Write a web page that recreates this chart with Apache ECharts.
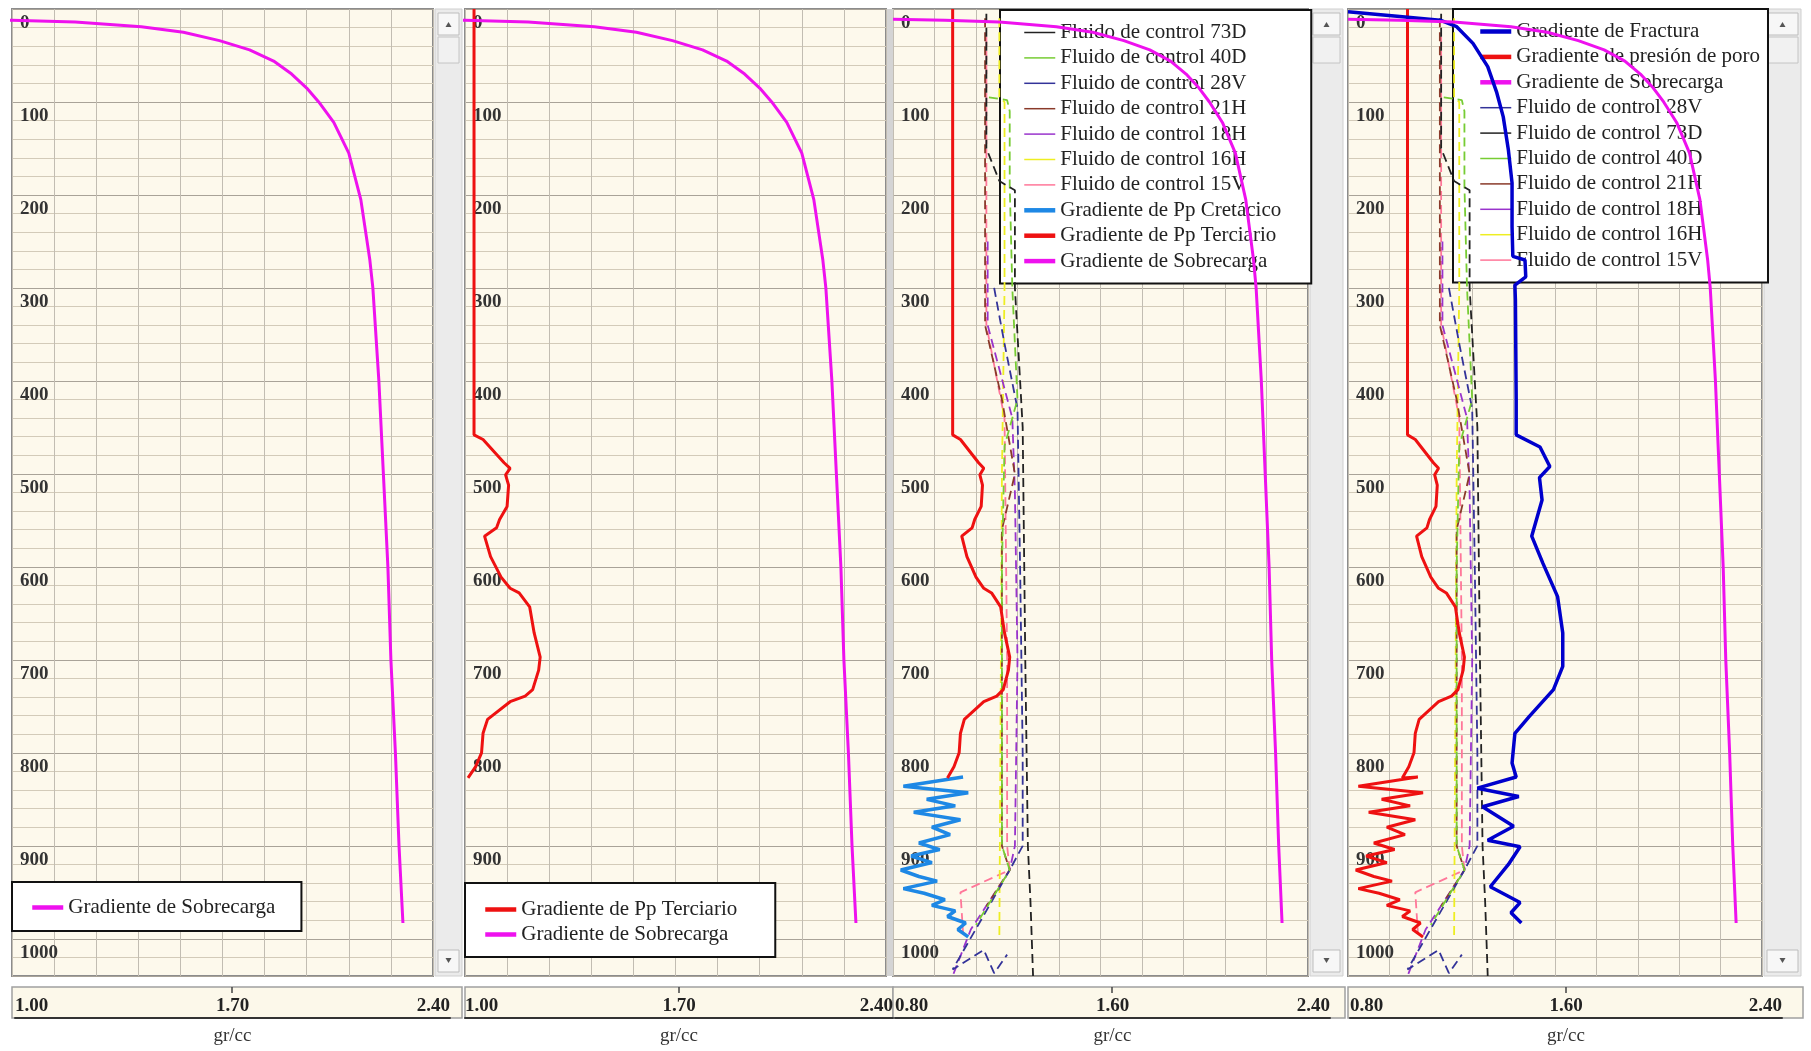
<!DOCTYPE html>
<html><head><meta charset="utf-8">
<script src="https://cdn.jsdelivr.net/npm/echarts@6/dist/echarts.min.js"></script>
<style>html,body{margin:0;padding:0;background:#fff;}#c{width:1811px;height:1051px;}</style>
</head><body><div id="c"></div>
<script>
// ---------- DATA (x = gradient gr/cc, y = depth) ----------
const depthMax = 1040;
const depthStep = 100;
const gradRangeA = [1.00, 2.40];
const gradRangeB = [0.80, 2.40];
const unitName = 'gr/cc';

const sobrecarga = [[0.80,11],[1.00,12],[1.21,14],[1.43,19],[1.57,25],[1.69,34],[1.79,44],[1.87,56],[1.93,70],[1.98,85],[2.02,100],[2.07,122],[2.12,155],[2.16,205],[2.19,270],[2.20,300],[2.22,400],[2.235,500],[2.25,600],[2.26,700],[2.275,800],[2.287,900],[2.30,983]];

const terciario = [[1.03,0],[1.03,458],[1.06,463],[1.13,488],[1.15,494],[1.135,501],[1.145,512],[1.14,535],[1.115,549],[1.105,558],[1.065,567],[1.085,589],[1.12,611],[1.15,623],[1.18,628],[1.215,643],[1.23,671],[1.25,697],[1.245,711],[1.225,732],[1.20,739],[1.15,745],[1.075,764],[1.06,779],[1.055,800],[1.035,815],[1.01,827]];

const cretacico = [[1.07,826],[0.84,836],[1.09,843],[0.93,850],[1.04,857],[0.88,864],[1.06,872],[0.95,880],[1.02,888],[0.90,897],[0.98,904],[0.87,911],[0.95,918],[0.83,926],[0.90,933],[0.97,938],[0.84,946],[0.92,951],[1.00,958],[0.95,964],[1.04,970],[1.01,976],[1.08,983],[1.05,990],[1.09,998]];

const fractura = [[0.80,3],[1.00,8],[1.156,12],[1.22,19],[1.283,37],[1.34,62],[1.375,90],[1.40,116],[1.42,152],[1.434,187],[1.434,234],[1.437,266],[1.484,270],[1.487,288],[1.445,297],[1.447,313],[1.45,420],[1.45,458],[1.542,471],[1.58,492],[1.54,504],[1.55,528],[1.51,567],[1.553,596],[1.61,632],[1.63,671],[1.63,707],[1.594,732],[1.50,761],[1.445,779],[1.434,811],[1.45,826],[1.30,838],[1.46,847],[1.32,858],[1.44,879],[1.34,894],[1.465,901],[1.42,920],[1.35,944],[1.465,961],[1.43,972],[1.47,983]];

const fluido73D = [[1.16,5],[1.16,150],[1.21,185],[1.27,195],[1.27,300],[1.29,400],[1.30,450],[1.31,700],[1.32,900],[1.33,960],[1.34,1040]];
const fluido40D = [[1.17,95],[1.24,98],[1.25,110],[1.25,190],[1.26,300],[1.28,420],[1.23,470],[1.22,600],[1.22,900],[1.25,926],[1.12,985]];
const fluido28V = [[1.19,300],[1.23,360],[1.28,430],[1.29,600],[1.30,800],[1.30,900],[1.25,926],[1.03,1033],[1.15,1012],[1.19,1037],[1.24,1017]];
const fluido21H = [[1.155,10],[1.155,340],[1.22,420],[1.27,500],[1.22,560],[1.22,900],[1.25,926],[1.16,965]];
const fluido18H = [[1.165,250],[1.165,340],[1.26,440],[1.27,520],[1.28,700],[1.27,900],[1.25,926],[1.10,990],[1.03,1040]];
const fluido16H = [[1.21,10],[1.21,95],[1.23,100],[1.23,300],[1.22,500],[1.21,1000]];
const fluido15V = [[1.16,30],[1.16,340],[1.23,440],[1.24,700],[1.24,900],[1.25,926],[1.06,950],[1.07,993]];

const poro = terciario.concat(cretacico);

// ---------- LAYOUT / STYLE ----------
const SERIF = 'Liberation Serif';
const panels = [
  {left:12,   width:421, range:gradRangeA, strip:[15,435]},
  {left:465,  width:421, range:gradRangeA, strip:[465,428]},
  {left:893,  width:415, range:gradRangeB, strip:[895,435]},
  {left:1348, width:414, range:gradRangeB, strip:[1350,432]}
];
const PLOT_TOP = 9, PLOT_H = 967, STRIP_TOP = 987, STRIP_H = 31;

const grid = [], xAxis = [], yAxis = [];
panels.forEach((p, i) => {
  grid.push({left:p.left, top:PLOT_TOP, width:p.width, height:PLOT_H, show:true,
    backgroundColor:'#fdf9ec', borderColor:'#8c8c8c', borderWidth:2});
  const r = p.range[1] - p.range[0];
  xAxis.push({gridIndex:i, type:'value', min:p.range[0], max:p.range[1], interval:r/10,
    axisLine:{show:false}, axisTick:{show:false}, axisLabel:{show:false},
    splitLine:{show:true, lineStyle:{color:'#c2bdb2', width:1}}});
  yAxis.push({gridIndex:i, type:'value', inverse:true, min:0, max:depthMax, interval:depthStep,
    axisLine:{show:false}, axisTick:{show:false},
    axisLabel:{inside:true, margin:8, verticalAlign:'top', padding:[5,0,0,0], showMaxLabel:false,
      formatter:v => String(v),
      fontFamily:SERIF, fontWeight:'bold', fontSize:19, color:'#333'},
    splitLine:{show:true, lineStyle:{color:'#a9a398', width:1}},
    minorTick:{show:false, splitNumber:5},
    minorSplitLine:{show:true, lineStyle:{color:'#d3cbb9', width:1}}});
});
panels.forEach((p, i) => {
  grid.push({left:p.strip[0], top:STRIP_TOP, width:p.strip[1], height:STRIP_H, show:false});
  const r = p.range[1] - p.range[0];
  xAxis.push({gridIndex:4+i, type:'value', min:p.range[0], max:p.range[1], interval:r/2, z:5,
    axisLine:{show:true, lineStyle:{color:'#333', width:2}}, axisTick:{show:false},
    splitLine:{show:false},
    axisLabel:{inside:true, margin:2, formatter:v => v.toFixed(2), alignMinLabel:'left', alignMaxLabel:'right',
      fontFamily:SERIF, fontWeight:'bold', fontSize:19, color:'#222'},
    name:unitName, nameLocation:'middle', nameGap:9,
    nameTextStyle:{fontFamily:SERIF, fontSize:19, color:'#333', verticalAlign:'top'}});
  yAxis.push({gridIndex:4+i, type:'value', show:false, min:0, max:1});
});

const C = {
  sob:'#ee11ee', ter:'#ee1111', cre:'#1e88e5', fra:'#0000cc',
  f73:'#222222', f40:'#77cc33', f28:'#333399', f21:'#8a3a2a', f18:'#9933cc', f16:'#eeee22', f15:'#ff7799'
};
function line(name, data, idx, color, width, dashed, z) {
  return {type:'line', name, data, xAxisIndex:idx, yAxisIndex:idx, symbol:'none', silent:true,
    animation:false, z:z || 2, clip:true,
    lineStyle:{color, width, type: dashed ? [9,5] : 'solid'}, itemStyle:{color}};
}
function fluids(idx) {
  return [
    line('Fluido de control 15V', fluido15V, idx, C.f15, 1.8, true),
    line('Fluido de control 16H', fluido16H, idx, C.f16, 1.8, true),
    line('Fluido de control 18H', fluido18H, idx, C.f18, 1.8, true),
    line('Fluido de control 21H', fluido21H, idx, C.f21, 1.8, true),
    line('Fluido de control 28V', fluido28V, idx, C.f28, 1.8, true),
    line('Fluido de control 40D', fluido40D, idx, C.f40, 1.8, true),
    line('Fluido de control 73D', fluido73D, idx, C.f73, 1.8, true)
  ];
}
const series = [
  line('Gradiente de Sobrecarga', sobrecarga, 0, C.sob, 3, false, 3),
  line('Gradiente de Pp Terciario', terciario, 1, C.ter, 3, false, 3),
  line('Gradiente de Sobrecarga', sobrecarga, 1, C.sob, 3, false, 3),
  ...fluids(2),
  line('Gradiente de Pp Cretácico', cretacico, 2, C.cre, 3.5, false, 3),
  line('Gradiente de Pp Terciario', terciario, 2, C.ter, 3, false, 3),
  line('Gradiente de Sobrecarga', sobrecarga, 2, C.sob, 3, false, 3),
  ...fluids(3),
  line('Gradiente de presión de poro', poro, 3, C.ter, 3, false, 3),
  line('Gradiente de Fractura', fractura, 3, C.fra, 3.5, false, 3),
  line('Gradiente de Sobrecarga', sobrecarga, 3, C.sob, 3, false, 3)
];

// legend entries: thick icon for gradients, thin for fluids
const item = n => ({name:n, lineStyle:{width: n.indexOf('Gradiente') === 0 ? 4.5 : 1.5}});
const legendBase = {orient:'vertical', selectedMode:false, z:1, backgroundColor:'#fff',
  borderColor:'#111', borderWidth:2, borderRadius:0, itemWidth:31, itemHeight:14,
  lineStyle:{type:'solid'}, itemStyle:{opacity:0},
  textStyle:{fontFamily:SERIF, fontSize:21, lineHeight:21, color:'#222'}};
const legend = [
  Object.assign({}, legendBase, {left:12, top:882, padding:[15,26,13,18], itemGap:4,
    data:['Gradiente de Sobrecarga'].map(item)}),
  Object.assign({}, legendBase, {left:465, top:883, padding:[16,38,12,18], itemGap:4,
    data:['Gradiente de Pp Terciario','Gradiente de Sobrecarga'].map(item)}),
  Object.assign({}, legendBase, {left:1000, top:10, padding:[12,30,12,22], itemGap:4.4,
    data:['Fluido de control 73D','Fluido de control 40D','Fluido de control 28V','Fluido de control 21H',
      'Fluido de control 18H','Fluido de control 16H','Fluido de control 15V',
      'Gradiente de Pp Cretácico','Gradiente de Pp Terciario','Gradiente de Sobrecarga'].map(item)}),
  Object.assign({}, legendBase, {left:1453, top:9, padding:[12,8,12,25], itemGap:4.4,
    data:['Gradiente de Fractura','Gradiente de presión de poro','Gradiente de Sobrecarga',
      'Fluido de control 28V','Fluido de control 73D','Fluido de control 40D','Fluido de control 21H',
      'Fluido de control 18H','Fluido de control 16H','Fluido de control 15V'].map(item)})
];

// decorative scrollbars and axis strips
function scrollbar(x, w) {
  const bx = x + 3, bw = w - 6;
  return [
    {type:'rect', shape:{x, y:PLOT_TOP, width:w, height:PLOT_H}, style:{fill:'#ebebeb', stroke:'#cfcfcf'}},
    {type:'rect', shape:{x:bx, y:13, width:bw, height:22}, style:{fill:'#f7f7f7', stroke:'#bdbdbd'}},
    {type:'polygon', shape:{points:[[bx+bw/2-3,27],[bx+bw/2+3,27],[bx+bw/2,22]]}, style:{fill:'#555'}},
    {type:'rect', shape:{x:bx, y:37, width:bw, height:26}, style:{fill:'#f1f1f1', stroke:'#c4c4c4'}},
    {type:'rect', shape:{x:bx, y:950, width:bw, height:22}, style:{fill:'#f7f7f7', stroke:'#bdbdbd'}},
    {type:'polygon', shape:{points:[[bx+bw/2-3,958],[bx+bw/2+3,958],[bx+bw/2,963]]}, style:{fill:'#555'}}
  ];
}
function strip(x, w, tickX) {
  return [
    {type:'rect', shape:{x, y:STRIP_TOP, width:w, height:STRIP_H}, style:{fill:'#fcf8ea', stroke:'#a0a0a0', lineWidth:1.5}},
    {type:'line', shape:{x1:tickX, y1:STRIP_TOP, x2:tickX, y2:STRIP_TOP+6}, style:{stroke:'#444', lineWidth:1.5}}
  ];
}
const graphicEls = [].concat(
  scrollbar(435, 27),
  [{type:'rect', shape:{x:887, y:PLOT_TOP, width:6, height:PLOT_H}, style:{fill:'#d4d4d4'}}],
  scrollbar(1310, 33),
  scrollbar(1764, 37),
  strip(12, 450, 232), strip(465, 428, 679), strip(893, 452, 1112), strip(1348, 455, 1566)
).map(e => Object.assign({z:0, silent:true}, e));

const chart = echarts.init(document.getElementById('c'), null, {renderer:'canvas'});
chart.setOption({
  animation:false,
  backgroundColor:'#ffffff',
  grid, xAxis, yAxis, legend, series,
  graphic:{elements:graphicEls}
});
</script></body></html>
